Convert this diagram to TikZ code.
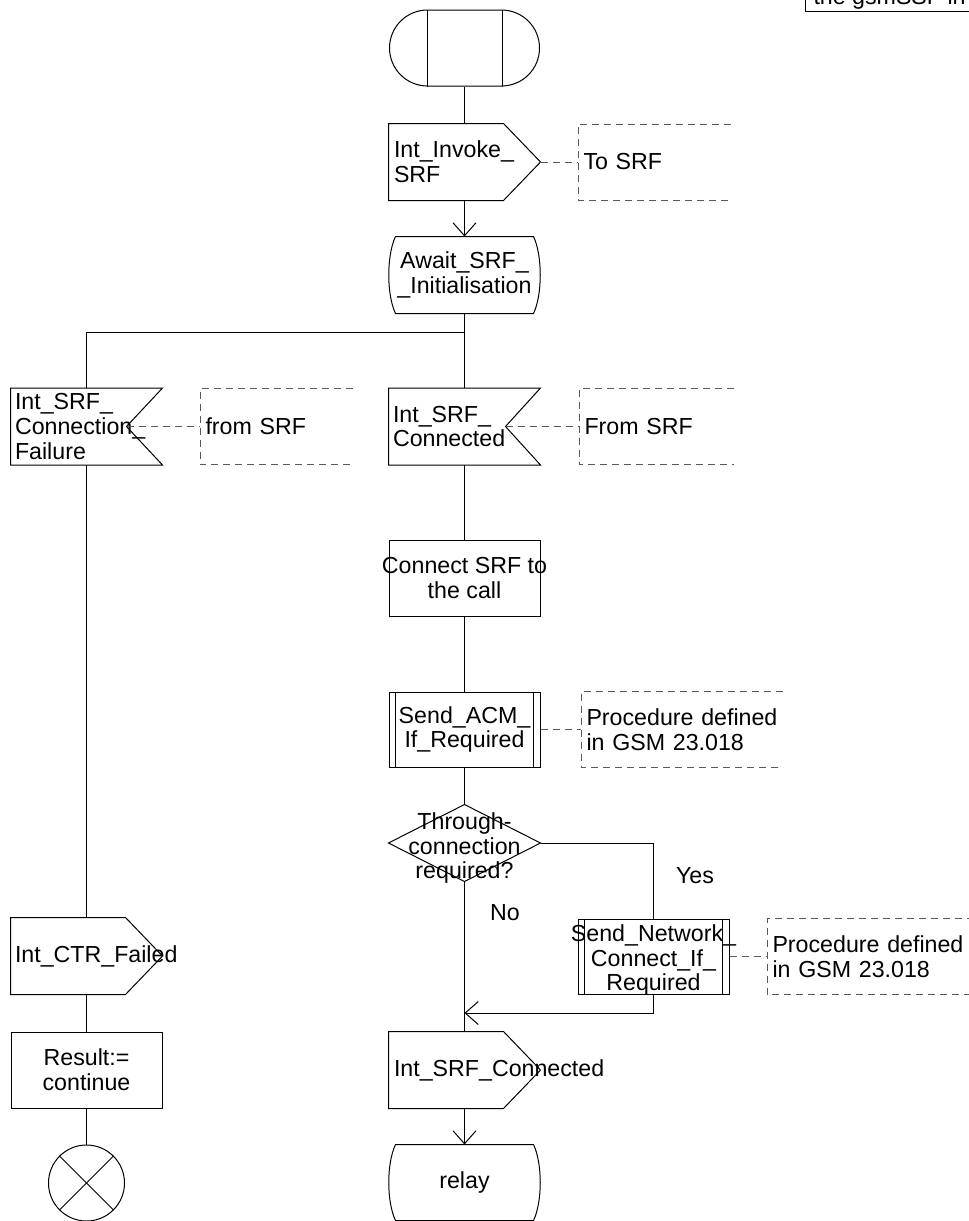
\documentclass[tikz,border=0pt]{standalone}
\usepackage{fontspec}
\setmainfont{Liberation Sans}
\usetikzlibrary{calc,arrows.meta}
\newcommand\sdloutput[1]{\draw (#1.north west) -- ($(#1.north east)+(-37,0)$) -- (#1.east) -- ($(#1.south east)+(-37,0)$) -- (#1.south west) -- cycle;}
\newcommand\sdlinput[2]{\draw (#1.north west) -- (#1.north east) -- ($(#1.east)+(-#2,0)$) -- (#1.south east) -- (#1.south west) -- cycle;
  \coordinate (#1n) at ($(#1.east)+(-#2,0)$);}
\newcommand\sdlstate[1]{\draw ($(#1.north west)+(7,0)$) -- ($(#1.north east)+(-7,0)$)
  .. controls ($(#1.north east)+(2,19)$) and ($(#1.south east)+(2,-19)$) .. ($(#1.south east)+(-7,0)$)
  -- ($(#1.south west)+(7,0)$)
  .. controls ($(#1.south west)+(-2,-19)$) and ($(#1.north west)+(-2,19)$) .. cycle;}
\newcommand\sdlproc[1]{\draw ($(#1.north west)+(7,0)$) -- ($(#1.south west)+(7,0)$);
  \draw ($(#1.north east)+(-7,0)$) -- ($(#1.south east)+(-7,0)$);}
\newcommand\sdlcomment[1]{\draw[dsh] (#1.north east) -- (#1.north west) -- (#1.south west) -- (#1.south east);}
\begin{document}
\begin{tikzpicture}[x=0.5pt,y=-0.5pt,
  line width=0.5pt,
  every node/.style={font=\fontsize{11.6}{12.4}\selectfont, inner sep=0pt},
  box/.style={draw=none, minimum width=75.5pt, minimum height=38pt},
  taskbox/.style={draw, minimum width=75.5pt, minimum height=38pt},
  procbox/.style={draw, minimum width=75.5pt, minimum height=37.5pt},
  txt/.style={align=center},
  ltxt/.style={align=left, anchor=west},
  dsh/.style={draw=black!65, dash pattern=on 3.5pt off 2.5pt},
  cmt/.style={anchor=west, align=left, minimum height=37.5pt, inner xsep=2.5pt, text width=#1},
  arr/.style={-{Straight Barb[length=6.5pt,width=11.5pt]}},
]
\useasboundingbox (0,0) rectangle (969,1221);
\clip (0,0) rectangle (969,1221);

% header box (cut off at the top)
\node[draw, anchor=south west, inner xsep=4pt, inner ysep=1.1pt, align=left] (hdr) at (805,12) {the gsmSSF in the};

% start
\node[draw, rounded corners=19pt, minimum width=75pt, minimum height=38pt] (st) at (464.5,48) {};
\draw ($(st.north west)+(38,0)$) -- ($(st.south west)+(38,0)$);
\draw ($(st.north east)+(-38,0)$) -- ($(st.south east)+(-38,0)$);

% output Int_Invoke_SRF
\node[box] (o1) at (464.5,162) {};
\sdloutput{o1}
\node[ltxt] (to1) at ($(o1.west)+(5,0)$) {Int\_Invoke\_\\SRF};
\node[cmt=71pt] (c1) at (578,162) {To SRF};
\sdlcomment{c1}
\draw[dsh] (o1.east) -- (c1.west);
\draw (st.south) -- (o1.north);

% state
\node[box] (s1) at (464.5,275) {};
\sdlstate{s1}
\node[txt] (ts1) at (s1.center) {Await\_SRF\_\\\_Initialisation};
\draw[arr] (o1.south) -- (s1.north);

% inputs
\node[box] (i1) at (86.5,426.5) {};
\sdlinput{i1}{36}
\node[ltxt] (ti1) at ($(i1.west)+(4,0)$) {Int\_SRF\_\\Connection\_\\Failure};
\node[cmt=71pt] (c2) at (200,426.5) {from SRF};
\sdlcomment{c2}
\draw[dsh] (i1n) -- (c2.west);

\node[box] (i2) at (464.5,426.5) {};
\sdlinput{i2}{35}
\node[ltxt] (ti2) at ($(i2.west)+(4,0)$) {Int\_SRF\_\\Connected};
\node[cmt=72pt] (c3) at (579,426.5) {From SRF};
\sdlcomment{c3}
\draw[dsh] (i2n) -- (c3.west);

\coordinate (sp) at (464.5,332);
\coordinate (spl) at (86.5,332);
\draw (s1.south) -- (sp) -- (i2.north);
\draw (sp) -- (spl) -- (i1.north);

% task connect
\node[taskbox] (tk) at (464.5,578) {};
\node[txt] (ttk) at (tk.center) {Connect SRF to\\the call};
\draw (i2.south) -- (tk.north);

% procedure ACM
\node[procbox] (p1) at (464.5,729.5) {};
\sdlproc{p1}
\node[txt] (tp1) at (p1.center) {Send\_ACM\_\\If\_Required};
\node[cmt=95.5pt] (c4) at (581,729.5) {Procedure defined\\in GSM 23.018};
\sdlcomment{c4}
\draw[dsh] (p1.east) -- (c4.west);
\draw (tk.south) -- (p1.north);

% decision
\node[box] (d) at (464.5,843) {};
\draw (d.north) -- (d.east) -- (d.south) -- (d.west) -- cycle;
\node[txt] (td) at (464.5,848) {Through-\\connection\\required?};
\draw (p1.south) -- (d.north);
\node (yes) at (695,876) {Yes};
\node (no) at (505,913) {No};

% procedure network connect
\node[procbox] (p2) at (653.5,956.5) {};
\sdlproc{p2}
\node[txt] (tp2) at (653.5,960) {Send\_Network\_\\Connect\_If\_\\Required};
\node[cmt=110pt] (c5) at (767,956.5) {Procedure defined\\in GSM 23.018};
\sdlcomment{c5}
\draw[dsh] (p2.east) -- (c5.west);
\draw (d.east) -| (p2.north);

% output Int_SRF_Connected
\node[box] (o3) at (464.5,1070) {};
\sdloutput{o3}
\node[ltxt] (to3) at ($(o3.west)+(5,0)$) {Int\_SRF\_Connected};
\coordinate (mg) at (464.5,1013);
\draw (d.south) -- (o3.north);
\draw[arr] (p2.south) |- (mg);

% relay state
\node[box, minimum height=37.5pt] (rl) at (464.5,1182.5) {};
\sdlstate{rl}
\node[txt] (trl) at (rl.center) {relay};
\draw[arr] (o3.south) -- (rl.north);

% left column
\node[box] (o2) at (86.5,956) {};
\sdloutput{o2}
\node[ltxt] (to2) at ($(o2.west)+(4,0)$) {Int\_CTR\_Failed};
\draw (i1.south) -- (o2.north);

\node[taskbox] (tk2) at (86.5,1070) {};
\node[txt] (ttk2) at (tk2.center) {Result:=\\continue};
\draw (o2.south) -- (tk2.north);

\node[draw, circle, minimum size=38pt] (stp) at (86.5,1183) {};
\draw (stp.north west) -- (stp.south east);
\draw (stp.north east) -- (stp.south west);
\draw (tk2.south) -- (stp.north);
\end{tikzpicture}
\end{document}
